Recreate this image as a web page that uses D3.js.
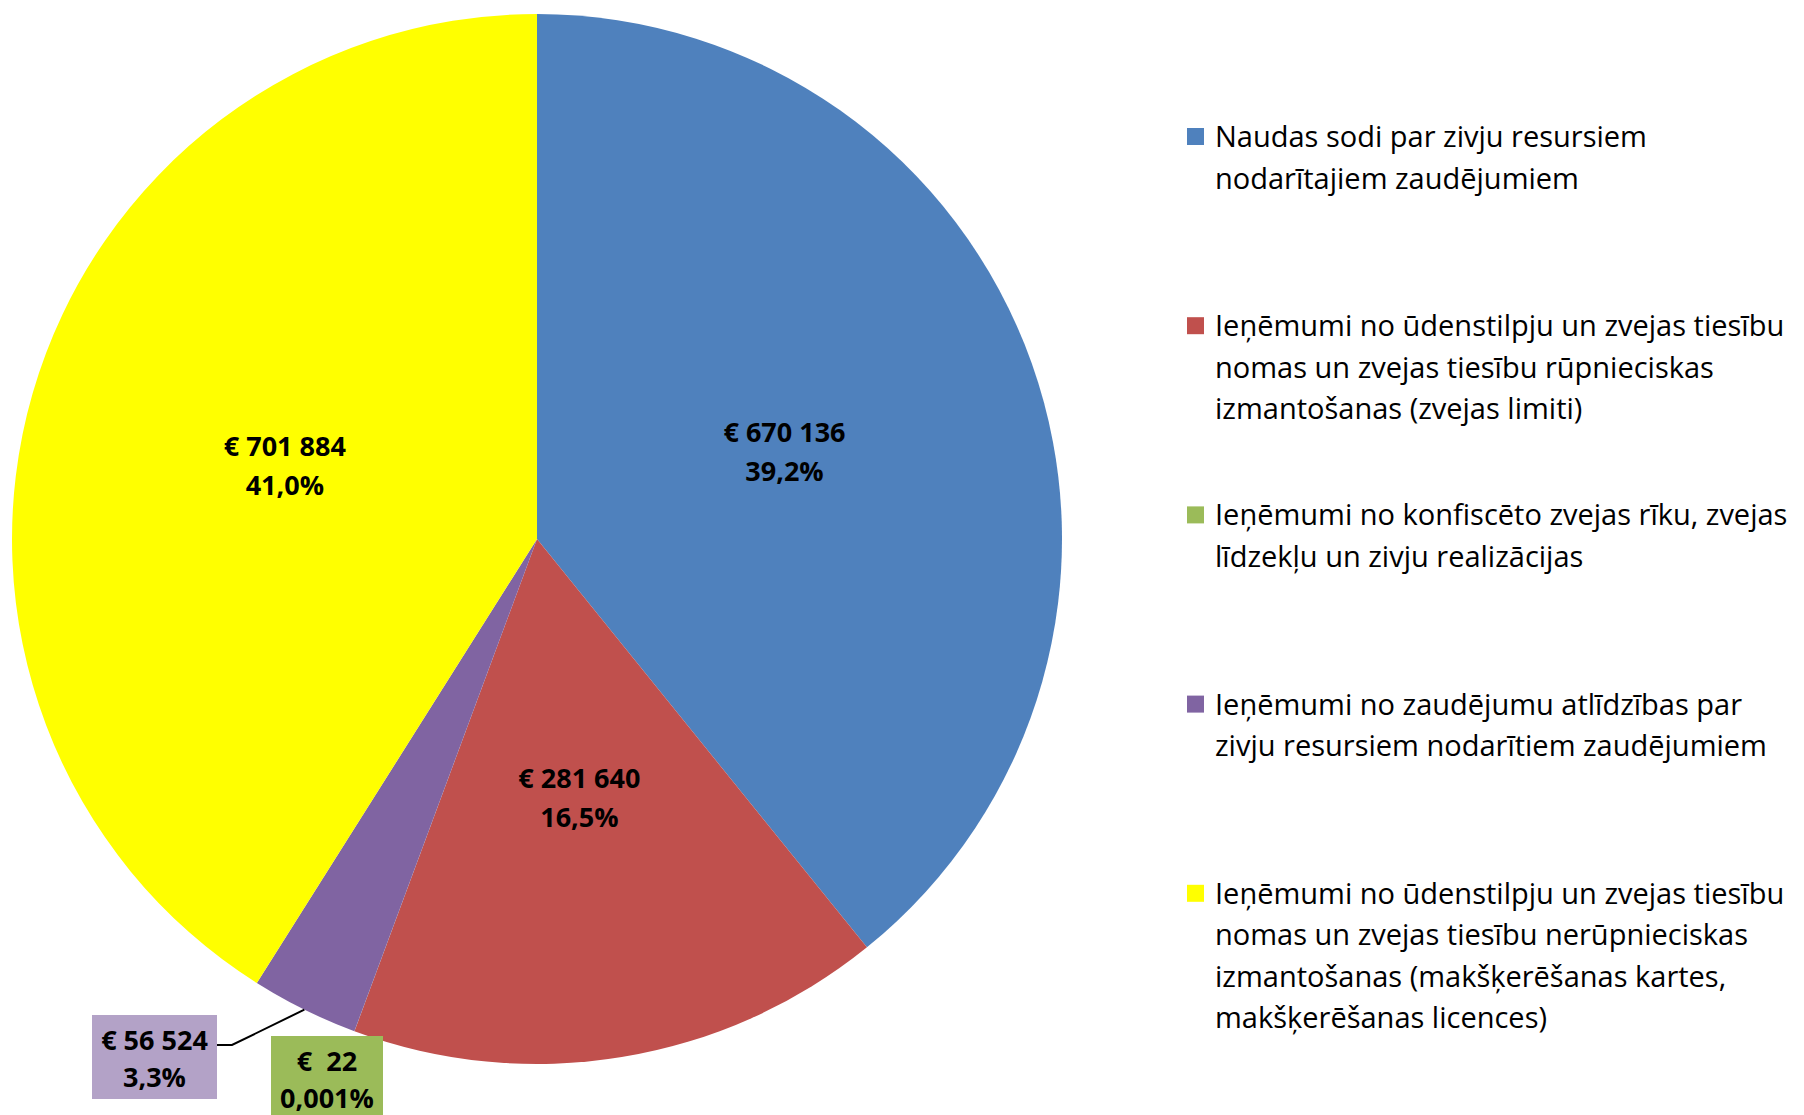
<!DOCTYPE html>
<html>
<head>
<meta charset="utf-8">
<script src="https://cdn.jsdelivr.net/npm/d3@7"></script>
<style>
  body { margin: 0; background: #fff; }
  svg { display: block; font-family: "Open Sans", sans-serif; }
</style>
</head>
<body>
<svg id="chart" width="1804" height="1115"></svg>
<script>
// data
var categories = [
  ["Naudas sodi par zivju resursiem", "nodarītajiem zaudējumiem"],
  ["Ieņēmumi no ūdenstilpju un zvejas tiesību", "nomas un zvejas tiesību rūpnieciskas", "izmantošanas (zvejas limiti)"],
  ["Ieņēmumi no konfiscēto zvejas rīku, zvejas", "līdzekļu un zivju realizācijas"],
  ["Ieņēmumi no zaudējumu atlīdzības par", "zivju resursiem nodarītiem zaudējumiem"],
  ["Ieņēmumi no ūdenstilpju un zvejas tiesību", "nomas un zvejas tiesību nerūpnieciskas", "izmantošanas (makšķerēšanas kartes,", "makšķerēšanas licences)"]
];
var values = [670136, 281640, 22, 56524, 701884];
var pctDigits = [1, 1, 3, 1, 1];
var colors = ["#4f81bd", "#c0504d", "#9bbb59", "#8064a2", "#ffff00"];

var svg = d3.select("#chart");
var cx = 537, cy = 539, R = 525;

var loc = d3.formatLocale({decimal: ",", thousands: " ", grouping: [3], currency: ["€ ", ""]});
var fmtVal = loc.format(">3,d");
var total = d3.sum(values);

var pie = d3.pie().sort(null).value(function (d) { return d; });
var arcs = pie(values);
var arc = d3.arc().innerRadius(0).outerRadius(R);

var g = svg.append("g").attr("transform", "translate(" + cx + "," + cy + ")");

g.selectAll("path.slice")
    .data(arcs)
    .enter().append("path")
    .attr("class", "slice")
    .attr("d", arc)
    .attr("fill", function (d, i) { return colors[i]; });

function valText(i) { return "€ " + fmtVal(values[i]); }
function pctText(i) { return loc.format("." + pctDigits[i] + "f")(values[i] / total * 100) + "%"; }

// labels inside the big slices
[0, 1, 4].forEach(function (i) {
    var c = arc.centroid(arcs[i]);
    var t = g.append("text")
        .attr("text-anchor", "middle")
        .attr("font-weight", "bold")
        .attr("font-size", 27)
        .attr("fill", "#000");
    t.append("tspan").attr("x", c[0]).attr("y", c[1] - 10).text(valText(i));
    t.append("tspan").attr("x", c[0]).attr("y", c[1] + 29).text(pctText(i));
});

// purple: boxed label with a leader line
var pOuter = d3.arc().innerRadius(R).outerRadius(R).centroid(arcs[3]);
var pBox = {x: 92 - cx, y: 1015 - cy, w: 125, h: 84};
g.append("polyline")
    .attr("points", [[pBox.x + pBox.w, pBox.y + 30], [pBox.x + pBox.w + 15, pBox.y + 30], pOuter].join(" "))
    .attr("fill", "none")
    .attr("stroke", "#000")
    .attr("stroke-width", 2);

function boxLabel(i, b, fill) {
    g.append("rect")
        .attr("x", b.x).attr("y", b.y)
        .attr("width", b.w).attr("height", b.h)
        .attr("fill", fill);
    var t = g.append("text")
        .attr("text-anchor", "middle")
        .attr("font-weight", "bold")
        .attr("font-size", 27)
        .attr("fill", "#000")
        .attr("xml:space", "preserve")
        .style("white-space", "pre");
    var mx = b.x + b.w / 2;
    t.append("tspan").attr("x", mx).attr("y", b.y + 35).text(valText(i));
    t.append("tspan").attr("x", mx).attr("y", b.y + 72).text(pctText(i));
}
boxLabel(3, pBox, "#b3a2c7");
boxLabel(2, {x: 271 - cx, y: 1036 - cy, w: 112, h: 79}, "#9bbb59");

// legend
var legend = svg.append("g").attr("transform", "translate(1187,147)");
var item = legend.selectAll("g.item")
    .data(categories)
    .enter().append("g")
    .attr("class", "item")
    .attr("transform", function (d, i) { return "translate(0," + (i * 189.2) + ")"; });

item.append("rect")
    .attr("x", 0).attr("y", -19)
    .attr("width", 17).attr("height", 17)
    .attr("fill", function (d, i) { return colors[i]; });

item.append("text")
    .attr("font-size", 29)
    .attr("fill", "#000")
    .selectAll("tspan")
    .data(function (d) { return d; })
    .enter().append("tspan")
    .attr("x", 28)
    .attr("y", function (d, j) { return j * 41.5; })
    .text(function (d) { return d; });
</script>
</body>
</html>
